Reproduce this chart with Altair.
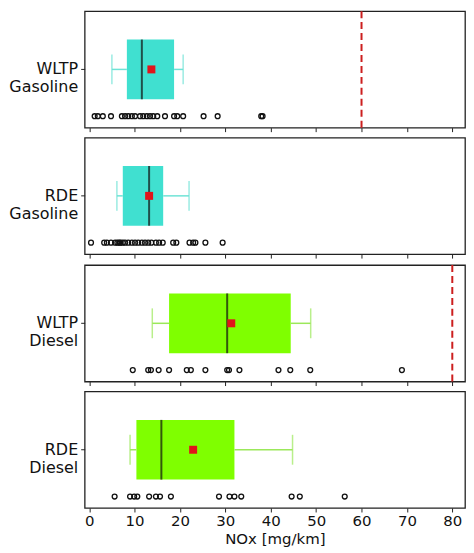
import altair as alt
import pandas as pd

groups = ["WLTP Gasoline", "RDE Gasoline", "WLTP Diesel", "RDE Diesel"]
fuel = ["Gasoline", "Gasoline", "Diesel", "Diesel"]
whisker_lo = [5.0, 6.1, 13.9, 9.0]
q1 = [8.3, 7.4, 17.6, 10.4]
median = [11.6, 13.2, 30.4, 15.9]
mean = [13.7, 13.2, 31.3, 22.9]
q3 = [18.7, 16.3, 44.4, 32.0]
whisker_hi = [20.7, 22.0, 48.8, 44.8]
limits = [60, None, 80, None]

points = [
    [1.2, 1.9, 3.0, 4.8, 7.2, 7.9, 8.6, 9.4, 10.1, 11.2, 11.9, 12.7, 13.4, 14.1,
     15.0, 16.7, 18.7, 19.4, 20.7, 25.2, 28.3, 37.9, 38.2],
    [0.4, 3.3, 3.9, 4.8, 5.7, 6.2, 6.6, 6.9, 7.4, 7.9, 8.6, 9.4, 10.1, 10.8, 11.6,
     12.3, 13.0, 13.7, 14.7, 15.4, 16.2, 18.5, 19.2, 22.1, 22.9, 23.4, 25.6, 29.4],
    [9.6, 13.0, 13.6, 15.3, 17.6, 21.5, 22.4, 25.6, 30.4, 30.8, 33.1, 41.7, 44.3,
     48.7, 68.9],
    [5.6, 9.0, 9.9, 10.6, 13.2, 14.7, 15.6, 18.0, 28.6, 30.9, 32.0, 33.5, 44.6,
     46.4, 56.3],
]

box_color = {"Gasoline": "#40E0D0", "Diesel": "#7FFF00"}
whisk_color = {"Gasoline": "#6fe3d6", "Diesel": "#9be85a"}

x_ticks = [0, 10, 20, 30, 40, 50, 60, 70, 80]
x_domain = [-1, 82.8]


def make_panel(i, bottom):
    stats = pd.DataFrame({
        "group": [groups[i]],
        "lo": [whisker_lo[i]], "q1": [q1[i]], "med": [median[i]],
        "mean": [mean[i]], "q3": [q3[i]], "hi": [whisker_hi[i]],
    })
    pts = pd.DataFrame({"group": groups[i], "v": points[i]})
    if bottom:
        xaxis = alt.Axis(values=x_ticks, grid=False, domain=False, tickSize=4,
                         tickColor="#222", labelFontSize=15, labelColor="#111",
                         title="NOx [mg/km]", titleFontSize=15, titleFontWeight="normal",
                         titleColor="#111", labelPadding=2, titlePadding=3)
    else:
        xaxis = alt.Axis(values=x_ticks, grid=False, domain=False, tickSize=4,
                         tickColor="#222", labels=False, title=None)
    xs = alt.Scale(domain=x_domain, nice=False, zero=False)
    yenc = alt.Y("group:N", title=None,
                 axis=alt.Axis(labelExpr="split(datum.label, ' ')", labelFontSize=16,
                               labelColor="#111", labelLineHeight=18, tickSize=4,
                               tickColor="#222", domain=False, labelPadding=3))
    base = alt.Chart(stats).encode(y=yenc)
    w_lo = base.mark_rule(color=whisk_color[fuel[i]], strokeWidth=1.5).encode(
        x=alt.X("lo:Q", scale=xs, axis=xaxis), x2="q1:Q")
    w_hi = base.mark_rule(color=whisk_color[fuel[i]], strokeWidth=1.5).encode(
        x=alt.X("q3:Q", scale=xs, axis=xaxis), x2="hi:Q")
    cap_lo = base.mark_tick(color=whisk_color[fuel[i]], size=30, thickness=1.5).encode(
        x=alt.X("lo:Q", scale=xs, axis=xaxis))
    cap_hi = base.mark_tick(color=whisk_color[fuel[i]], size=30, thickness=1.5).encode(
        x=alt.X("hi:Q", scale=xs, axis=xaxis))
    box = base.mark_bar(color=box_color[fuel[i]], size=60).encode(
        x=alt.X("q1:Q", scale=xs, axis=xaxis), x2="q3:Q")
    med = base.mark_tick(color="#111", size=60, thickness=2).encode(
        x=alt.X("med:Q", scale=xs, axis=xaxis))
    mn = base.mark_square(color="#e0141a", size=64, opacity=1).encode(
        x=alt.X("mean:Q", scale=xs, axis=xaxis))
    outl = alt.Chart(pts).mark_point(shape="circle", filled=False, color="#111",
                                      size=24, strokeWidth=1.3, yOffset=47, opacity=1).encode(
        x=alt.X("v:Q", scale=xs, axis=xaxis), y=yenc)
    layers = [box, w_lo, w_hi, cap_lo, cap_hi, med, mn, outl]
    if limits[i] is not None:
        lim = alt.Chart(pd.DataFrame({"lim": [limits[i]]})).mark_rule(
            color="#cc1f1f", strokeDash=[7, 4], strokeWidth=2).encode(
            x=alt.X("lim:Q", scale=xs, axis=xaxis))
        layers.append(lim)
    return alt.layer(*layers).properties(width=382, height=117)


panels = [make_panel(i, i == 3) for i in range(4)]
chart = alt.vconcat(*panels, spacing=3).resolve_scale(y="independent").configure(
    font="DejaVu Sans",
    padding=0,
    view=alt.ViewConfig(stroke="#222", strokeWidth=1.3),
).properties(padding=0)

chart.save("out.html", embed_options={"renderer": "svg", "actions": False})
